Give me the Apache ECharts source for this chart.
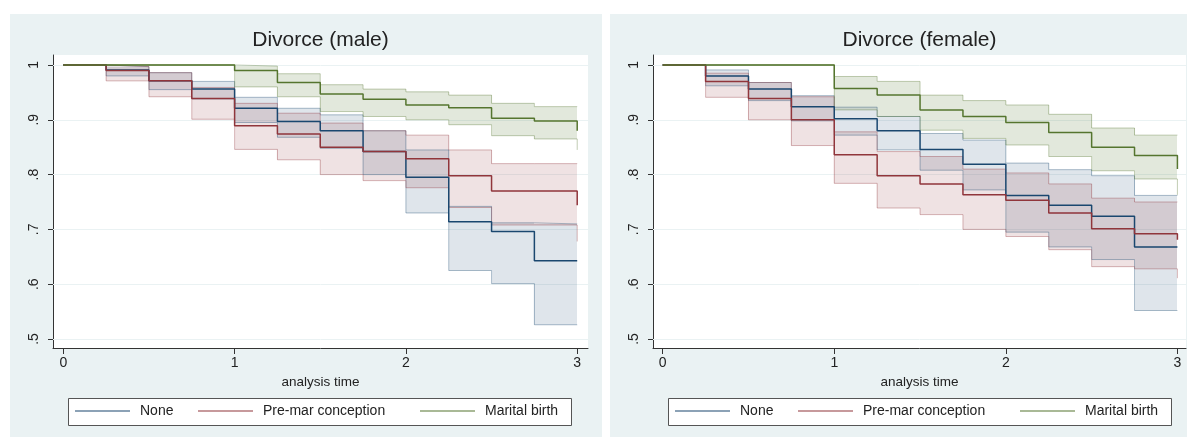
<!DOCTYPE html>
<html>
<head>
<meta charset="utf-8">
<script src="https://cdn.jsdelivr.net/npm/echarts@6/dist/echarts.min.js"></script>
<style>
html,body{margin:0;padding:0;background:#fff;}
#chart{width:1187px;height:437px;}
</style>
</head>
<body>
<div id="chart"></div>
<script>
// ---------------- data ----------------
const times = [0, 0.25, 0.5, 0.75, 1, 1.25, 1.5, 1.75, 2, 2.25, 2.5, 2.75, 3];
const xTicks = [0, 1, 2, 3];
const yTicks = [0.5, 0.6, 0.7, 0.8, 0.9, 1];
const seriesNames = ['None', 'Pre-mar conception', 'Marital birth'];
const panelTitles = ['Divorce (male)', 'Divorce (female)'];
const xAxisTitle = 'analysis time';

// male
const maleNone      = [1, 0.991, 0.971, 0.956, 0.921, 0.897, 0.880, 0.842, 0.795, 0.714, 0.696, 0.643, 0.643];
const maleNoneUpper = [1, 0.997, 0.986, 0.970, 0.941, 0.921, 0.909, 0.880, 0.845, 0.742, 0.712, 0.710, 0.710];
const maleNoneLower = [1, 0.980, 0.955, 0.938, 0.895, 0.868, 0.848, 0.800, 0.730, 0.625, 0.601, 0.526, 0.526];
const malePre       = [1, 0.990, 0.971, 0.939, 0.889, 0.874, 0.850, 0.842, 0.829, 0.798, 0.770, 0.770, 0.744];
const malePreUpper  = [1, 0.997, 0.986, 0.959, 0.930, 0.912, 0.894, 0.880, 0.872, 0.845, 0.820, 0.820, 0.820];
const malePreLower  = [1, 0.971, 0.942, 0.901, 0.846, 0.827, 0.800, 0.789, 0.776, 0.740, 0.708, 0.708, 0.678];
const maleMar       = [1, 1, 1, 1, 0.990, 0.968, 0.947, 0.9375, 0.927, 0.922, 0.903, 0.898, 0.880];
const maleMarUpper  = [1, 1, 1, 1, 0.998, 0.984, 0.964, 0.956, 0.951, 0.945, 0.930, 0.924, 0.924];
const maleMarLower  = [1, 1, 1, 1, 0.960, 0.942, 0.915, 0.906, 0.900, 0.891, 0.871, 0.865, 0.845];

// female
const femaleNone      = [1, 0.980, 0.956, 0.924, 0.902, 0.880, 0.846, 0.819, 0.762, 0.744, 0.724, 0.668, 0.668];
const femaleNoneUpper = [1, 0.991, 0.968, 0.944, 0.923, 0.906, 0.875, 0.863, 0.821, 0.809, 0.798, 0.762, 0.762];
const femaleNoneLower = [1, 0.962, 0.935, 0.898, 0.872, 0.845, 0.808, 0.772, 0.695, 0.668, 0.645, 0.552, 0.552];
const femalePre       = [1, 0.970, 0.939, 0.900, 0.836, 0.798, 0.783, 0.763, 0.753, 0.730, 0.701, 0.692, 0.681];
const femalePreUpper  = [1, 0.985, 0.968, 0.942, 0.878, 0.842, 0.833, 0.810, 0.803, 0.783, 0.757, 0.750, 0.750];
const femalePreLower  = [1, 0.941, 0.900, 0.853, 0.784, 0.739, 0.727, 0.700, 0.687, 0.663, 0.632, 0.628, 0.611];
const femaleMar       = [1, 1, 1, 1, 0.957, 0.945, 0.918, 0.906, 0.895, 0.877, 0.850, 0.835, 0.810];
const femaleMarUpper  = [1, 1, 1, 1, 0.979, 0.970, 0.945, 0.935, 0.927, 0.910, 0.885, 0.872, 0.872];
const femaleMarLower  = [1, 1, 1, 1, 0.918, 0.906, 0.881, 0.866, 0.854, 0.833, 0.807, 0.792, 0.763];

// ---------------- style ----------------
const FONT = '"Liberation Sans", Arial, "DejaVu Sans", sans-serif';
const colors = [[26, 71, 111], [144, 53, 59], [85, 117, 47]];
const rgba = (c, a) => `rgba(${c[0]},${c[1]},${c[2]},${a})`;
const fillAlpha = [0.14, 0.14, 0.17];
const PANEL_BG = '#EAF2F3';
const TEXT = '#222';
const AXIS = '#333';

const panels = [
  { groups: [[maleNone, maleNoneLower, maleNoneUpper], [malePre, malePreLower, malePreUpper], [maleMar, maleMarLower, maleMarUpper]],
    grid: { left: 53, top: 55, width: 535, height: 293 }, xMin: -0.0601, xMax: 3.063, panelRect: [10, 14, 592, 423], legendX: 68 },
  { groups: [[femaleNone, femaleNoneLower, femaleNoneUpper], [femalePre, femalePreLower, femalePreUpper], [femaleMar, femaleMarLower, femaleMarUpper]],
    grid: { left: 653, top: 55, width: 533, height: 293 }, xMin: -0.0565, xMax: 3.05, panelRect: [610, 14, 577, 423], legendX: 668 }
];
const yMin = 0.4836, yMax = 1.0182;

const grids = [], xAxes = [], yAxes = [], series = [], legends = [], graphics = [];

function bandRenderer(fill) {
  return function (params, api) {
    const p1 = api.coord([api.value(0), api.value(3)]);
    const p2 = api.coord([api.value(1), api.value(2)]);
    const x1 = Math.round(p1[0]), x2 = Math.round(p2[0]);
    return { type: 'rect', shape: { x: x1, y: p1[1], width: x2 - x1, height: p2[1] - p1[1] }, style: { fill: fill } };
  };
}

panels.forEach((p, gi) => {
  grids.push(Object.assign({ show: true, backgroundColor: '#fff', borderWidth: 0, z: 0 }, p.grid));
  xAxes.push({
    type: 'value', gridIndex: gi, min: p.xMin, max: p.xMax,
    name: xAxisTitle, nameLocation: 'middle', nameGap: 26,
    nameTextStyle: { fontSize: 13.5, color: TEXT, fontFamily: FONT },
    axisLine: { show: true, onZero: false, lineStyle: { color: AXIS, width: 1 } },
    axisTick: { show: true, length: 6, customValues: xTicks, lineStyle: { color: AXIS } },
    axisLabel: { customValues: xTicks, margin: 8, fontSize: 14, color: TEXT, fontFamily: FONT, formatter: v => String(v) },
    splitLine: { show: false }
  });
  yAxes.push({
    type: 'value', gridIndex: gi, min: yMin, max: yMax,
    axisLine: { show: true, onZero: false, lineStyle: { color: AXIS, width: 1 } },
    axisTick: { show: true, length: 5, customValues: yTicks, lineStyle: { color: AXIS } },
    axisLabel: { customValues: yTicks, rotate: 90, margin: 12, fontSize: 14, color: TEXT, fontFamily: FONT,
      formatter: v => (Math.abs(v - 1) < 1e-9 ? '1' : String(+v.toFixed(2)).replace(/^0/, '')) },
    splitLine: { show: false }
  });

  // gridlines at y ticks
  series.push({
    type: 'line', xAxisIndex: gi, yAxisIndex: gi, data: [], silent: true, z: 1,
    markLine: { silent: true, symbol: 'none', z: 1, label: { show: false },
      lineStyle: { color: PANEL_BG, width: 1, type: 'solid' },
      data: yTicks.map(v => ({ yAxis: v })) }
  });

  p.groups.forEach((g, si) => {
    const [line, lo, hi] = g;
    const c = colors[si];
    series.push({
      type: 'custom', name: seriesNames[si] + ' CI', xAxisIndex: gi, yAxisIndex: gi,
      silent: true, z: 2, clip: true,
      encode: { x: [0, 1], y: [2, 3] },
      renderItem: bandRenderer(rgba(c, fillAlpha[si])),
      data: times.slice(0, -1).map((t, i) => [t, times[i + 1], lo[i], hi[i]])
    });
    [lo, hi].forEach((b, k) => {
      series.push({
        type: 'line', name: seriesNames[si] + (k ? ' upper' : ' lower'), xAxisIndex: gi, yAxisIndex: gi,
        step: 'end', symbol: 'none', silent: true, z: 3,
        lineStyle: { color: rgba(c, 0.36), width: 1 }, itemStyle: { color: rgba(c, 0.36) },
        data: times.map((t, i) => [t, b[i]])
      });
    });
  });
  p.groups.forEach((g, si) => {
    const c = colors[si];
    series.push({
      type: 'line', name: seriesNames[si], xAxisIndex: gi, yAxisIndex: gi,
      step: 'end', symbol: 'none', z: 5,
      lineStyle: { color: rgba(c, 1), width: 1.5 }, itemStyle: { color: rgba(c, 1) },
      data: times.map((t, i) => [t, g[0][i]])
    });
  });

  // panel background, legend box, title
  const r = p.panelRect;
  graphics.push({ type: 'rect', z: -1, silent: true, shape: { x: r[0], y: r[1], width: r[2], height: r[3] }, style: { fill: PANEL_BG } });
  graphics.push({ type: 'rect', z: 3, silent: true, shape: { x: p.legendX + 0.5, y: 398.5, width: 503, height: 27 }, style: { fill: '#fff', stroke: '#555', lineWidth: 1 } });
  graphics.push({ type: 'text', z: 3, silent: true, x: p.grid.left + p.grid.width / 2, y: 40,
    style: { text: panelTitles[gi], fill: TEXT, font: '21px ' + FONT, align: 'center', verticalAlign: 'middle' } });

  // legends: one per entry for column placement like the original
  const legendOffsets = [7, 130, 352];
  seriesNames.forEach((nm, si) => {
    legends.push({
      data: [nm], left: p.legendX + legendOffsets[si], top: 404, padding: 0, z: 5,
      icon: 'rect', itemWidth: 55, itemHeight: 1, selectedMode: false,
      textStyle: { fontSize: 14, color: TEXT, fontFamily: FONT, padding: [0, 0, 0, 5] }
    });
  });
});

const chart = echarts.init(document.getElementById('chart'), null, { renderer: 'canvas' });
chart.setOption({
  animation: false,
  backgroundColor: '#fff',
  grid: grids, xAxis: xAxes, yAxis: yAxes,
  legend: legends,
  graphic: graphics,
  series: series
});
</script>
</body>
</html>
